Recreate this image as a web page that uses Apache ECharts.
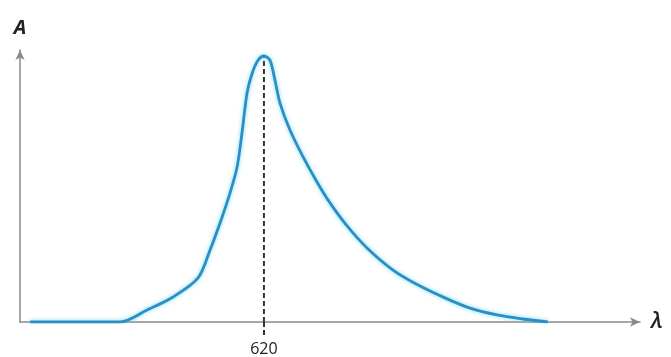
<!DOCTYPE html>
<html>
<head>
<meta charset="utf-8">
<script src="https://cdn.jsdelivr.net/npm/echarts@6/dist/echarts.min.js"></script>
<style>html,body{margin:0;padding:0;background:#fff;}#c{width:671px;height:357px;}</style>
</head>
<body>
<div id="c"></div>
<script>
// wavelength (nm) and absorbance
const wavelengths = [505, 549.2, 562.5, 575.3, 587.6, 593.5, 598.4, 603.3, 606.8, 609.2, 611.7, 614.1, 617.1, 620, 623, 625.4, 627.9, 632.8, 639.2, 646.1, 652.5, 660.9, 670.7, 683.5, 696.8, 710.1, 721.4, 734.7, 747.4, 759.7];
const absorbance  = [0, 0, 0.044, 0.092, 0.162, 0.265, 0.364, 0.474, 0.570, 0.695, 0.842, 0.912, 0.962, 0.978, 0.962, 0.890, 0.805, 0.706, 0.608, 0.515, 0.438, 0.353, 0.272, 0.191, 0.132, 0.085, 0.051, 0.026, 0.011, 0];
const peakWavelength = 620;
const peakValue = 0.978;
const xLabels = [620];

const chart = echarts.init(document.getElementById('c'), null, {renderer: 'canvas'});
const curve = wavelengths.map((w, i) => [w, absorbance[i]]);
chart.setOption({
  animation: false,
  backgroundColor: '#ffffff',
  grid: {left: 20, right: 31, top: 50, bottom: 35},
  xAxis: {
    type: 'value', min: 500, max: 805,
    name: 'λ', nameLocation: 'end', nameGap: 11,
    nameTextStyle: {fontFamily: 'Open Sans', fontStyle: 'italic', fontWeight: 600, fontSize: 22, color: '#222', verticalAlign: 'middle', padding: [0,0,4,0]},
    axisLine: {show: true, symbol: ['none', 'arrow'], symbolSize: [7, 10], lineStyle: {color: '#8a8a8a', width: 1.5}},
    axisTick: {show: true, customValues: xLabels, length: 13, inside: false, lineStyle: {color: '#333', width: 2, type: [5, 3]}},
    axisLabel: {show: true, customValues: xLabels, margin: 19, fontFamily: 'Open Sans', fontSize: 16, color: '#222'},
    splitLine: {show: false}
  },
  yAxis: {
    type: 'value', min: 0, max: 1,
    name: 'A', nameLocation: 'end', nameGap: 12,
    nameTextStyle: {fontFamily: 'Open Sans', fontStyle: 'italic', fontWeight: 'bold', fontSize: 20, color: '#222', align: 'center'},
    axisLine: {show: true, symbol: ['none', 'arrow'], symbolSize: [7, 10], lineStyle: {color: '#8a8a8a', width: 1.5}},
    axisTick: {show: false}, axisLabel: {show: false}, splitLine: {show: false}
  },
  series: [
    {
      type: 'line', data: [[peakWavelength, 0], [peakWavelength, peakValue]],
      symbol: 'none', lineStyle: {color: '#333', width: 2, type: [5, 3]}, z: 1
    },
    {
      type: 'line', data: curve, smooth: 0.3, symbol: 'none',
      lineStyle: {color: '#2a90c4', width: 2.8, shadowColor: 'rgba(90,205,240,0.8)', shadowBlur: 4},
      z: 3
    }
  ]
});
</script>
</body>
</html>
